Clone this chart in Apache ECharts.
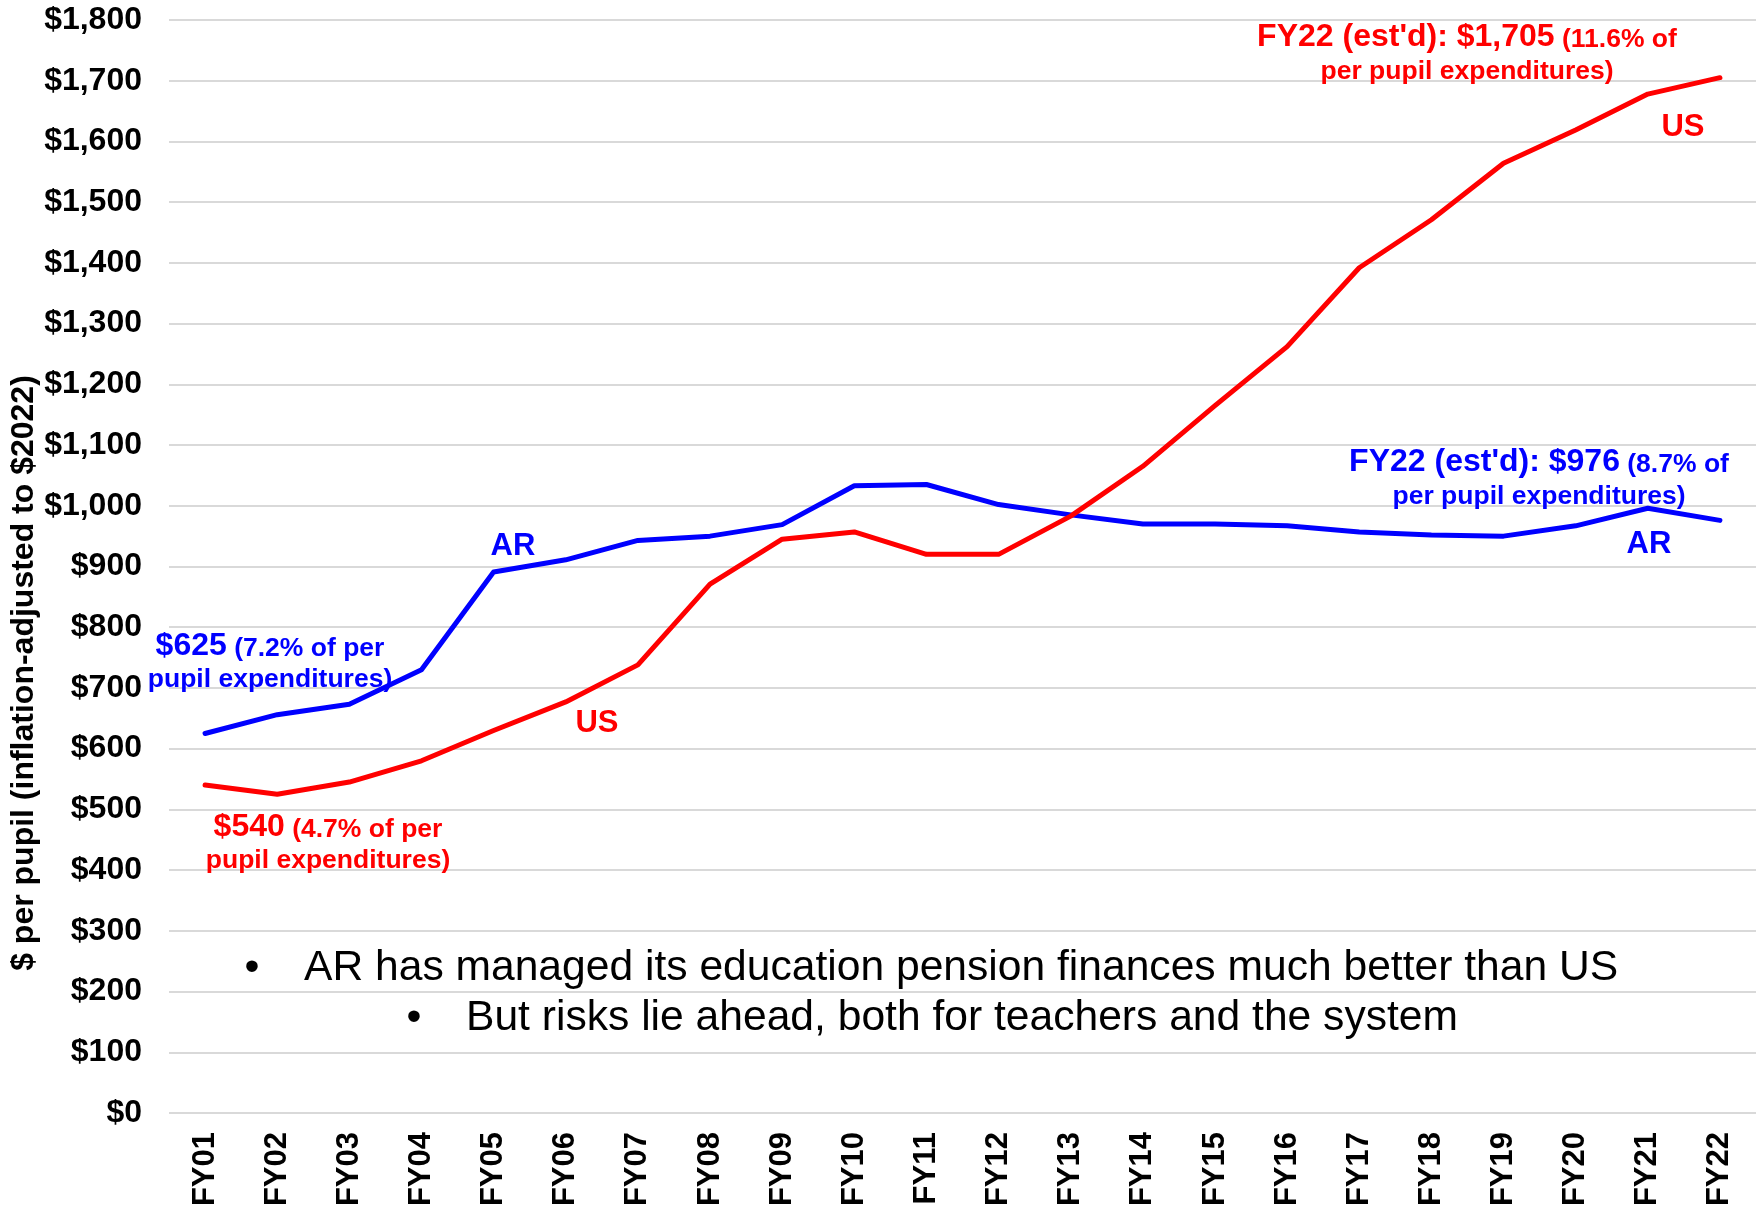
<!DOCTYPE html>
<html>
<head>
<meta charset="utf-8">
<script src="https://cdn.jsdelivr.net/npm/echarts@6/dist/echarts.min.js"></script>
<style>
html,body{margin:0;padding:0;background:#fff;}
#chart{width:1759px;height:1211px;}
</style>
</head>
<body>
<div id="chart"></div>
<script>
const categories = ['FY01','FY02','FY03','FY04','FY05','FY06','FY07','FY08','FY09','FY10','FY11','FY12','FY13','FY14','FY15','FY16','FY17','FY18','FY19','FY20','FY21','FY22'];
const arValues = [625,656,673,730,891,911,943,950,969,1033,1035,1002,985,970,970,967,957,952,950,967,996,976];
const usValues = [540,525,545,580,630,677,738,871,945,957,920,920,983,1065,1165,1262,1392,1471,1564,1619,1678,1705];
const yTicks = {min:0, max:1800, interval:100};
const yAxisTitle = '$ per pupil (inflation-adjusted to $2022)';
const bullets = ['AR has managed its education pension finances much better than US','But risks lie ahead, both for teachers and the system'];

const FONT = '"Liberation Sans", Arial, Helvetica, sans-serif';
const BLUE = '#0000ff', RED = '#ff0000';

function richLine(x, y, big, small, color){
  return {
    type:'text', x:x, y:y, z:100,
    style:{
      text:(big?'{a|'+big+'}':'')+(small?'{b|'+small+'}':''),
      rich:{
        a:{fontSize:32,fontWeight:'bold',fontFamily:FONT,fill:color,verticalAlign:'bottom',lineHeight:34},
        b:{fontSize:26.5,fontWeight:'bold',fontFamily:FONT,fill:color,verticalAlign:'bottom',lineHeight:34}
      },
      fill:color, align:'center', verticalAlign:'middle', textAlign:'center', textVerticalAlign:'middle'
    }
  };
}
function plain(x, y, txt, color, size, weight, align){
  return {
    type:'text', x:x, y:y, z:100,
    style:{text:txt, fill:color, font:(weight||'bold')+' '+size+'px '+FONT,
      align:align||'center', verticalAlign:'middle', textAlign:align||'center', textVerticalAlign:'middle'}
  };
}

const chart = echarts.init(document.getElementById('chart'), null, {renderer:'canvas'});
chart.setOption({
  animation:false,
  backgroundColor:'#ffffff',
  grid:{left:169, right:3, top:20, bottom:98, containLabel:false},
  xAxis:{
    type:'category', data:categories, boundaryGap:true,
    axisLine:{show:false}, axisTick:{show:false},
    axisLabel:{rotate:90, margin:19, color:'#000', fontSize:31, fontWeight:'bold', fontFamily:FONT, interval:0}
  },
  yAxis:{
    type:'value', min:yTicks.min, max:yTicks.max, interval:yTicks.interval,
    axisLine:{show:false}, axisTick:{show:false},
    splitLine:{lineStyle:{color:'#d9d9d9', width:2}},
    axisLabel:{margin:27, color:'#000', fontSize:32, fontWeight:'bold', fontFamily:FONT,
      formatter:function(v){return '$'+v.toLocaleString('en-US');}}
  },
  series:[
    {name:'AR', type:'line', data:arValues, showSymbol:false, symbol:'none',
     lineStyle:{color:BLUE, width:5, cap:'round', join:'round'}, itemStyle:{color:BLUE}},
    {name:'US', type:'line', data:usValues, showSymbol:false, symbol:'none',
     lineStyle:{color:RED, width:5, cap:'round', join:'round'}, itemStyle:{color:RED}}
  ],
  graphic:[
    {type:'text', x:24, y:673, rotation:Math.PI/2, z:100,
     style:{text:yAxisTitle, fill:'#000', font:'bold 32px '+FONT, align:'center', verticalAlign:'middle', textAlign:'center', textVerticalAlign:'middle'}},
    richLine(1467, 36, "FY22 (est'd): $1,705", ' (11.6% of', RED),
    richLine(1467, 68, null, 'per pupil expenditures)', RED),
    richLine(1539, 461, "FY22 (est'd): $976", ' (8.7% of', BLUE),
    richLine(1539, 493, null, 'per pupil expenditures)', BLUE),
    richLine(270, 645, '$625', ' (7.2% of per', BLUE),
    richLine(270, 676, null, 'pupil expenditures)', BLUE),
    richLine(328, 826, '$540', ' (4.7% of per', RED),
    richLine(328, 857, null, 'pupil expenditures)', RED),
    plain(513, 546, 'AR', BLUE, 31),
    plain(597, 723, 'US', RED, 31),
    plain(1683, 127, 'US', RED, 31),
    plain(1649, 544, 'AR', BLUE, 31),
    plain(252, 968, '\u2022', '#000', 42.6, 'normal'),
    plain(304, 968, bullets[0], '#000', 42.6, 'normal', 'left'),
    plain(414, 1018, '\u2022', '#000', 42.6, 'normal'),
    plain(466, 1018, bullets[1], '#000', 42.6, 'normal', 'left')
  ]
});
</script>
</body>
</html>
